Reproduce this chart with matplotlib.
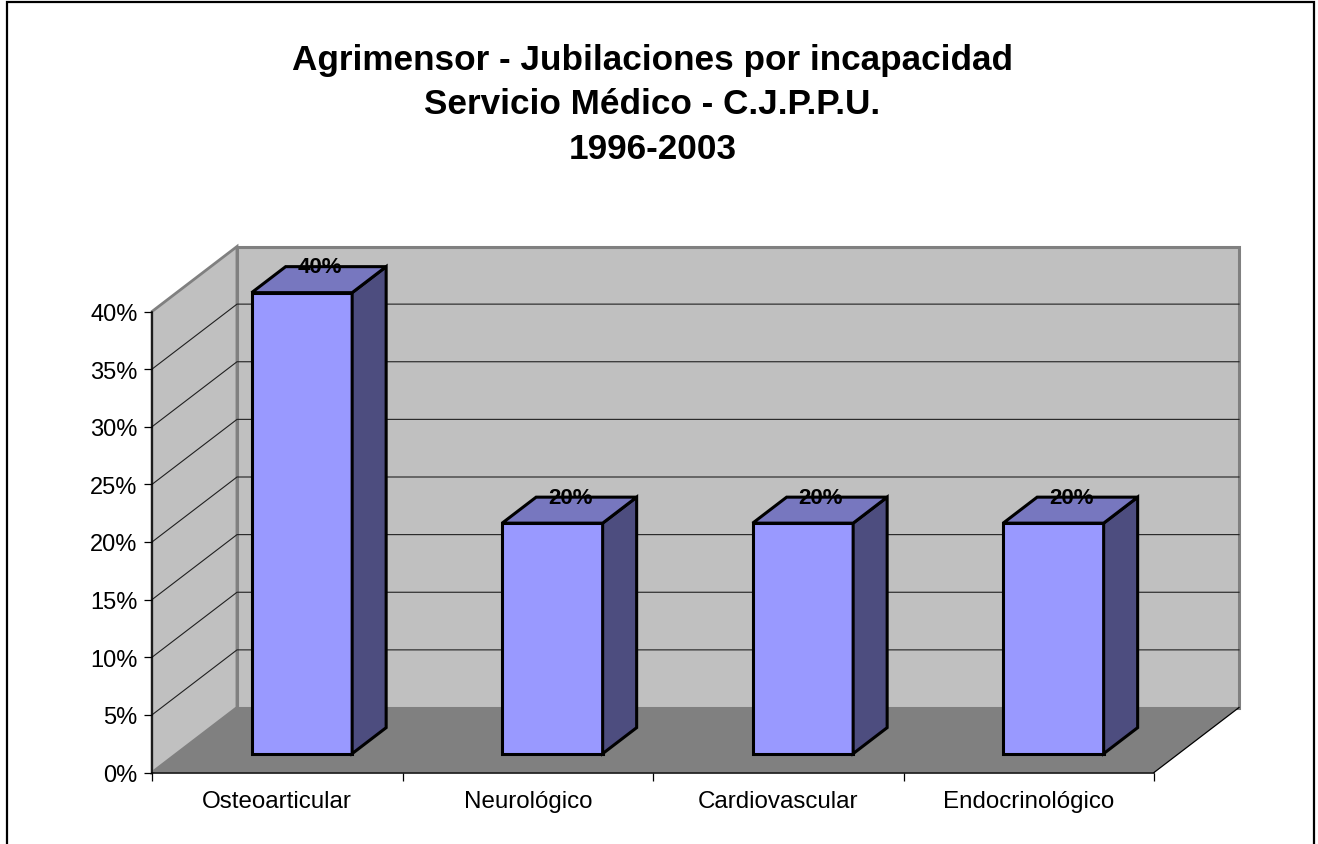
import matplotlib
matplotlib.use("Agg")
import matplotlib.pyplot as plt
from matplotlib.patches import Polygon, Rectangle

plt.rcParams['font.family'] = ['Liberation Sans', 'DejaVu Sans']

categorias = ['Osteoarticular', 'Neurológico', 'Cardiovascular', 'Endocrinológico']
valores = [40, 20, 20, 20]
ticks = [0, 5, 10, 15, 20, 25, 30, 35, 40]
titulo = 'Agrimensor - Jubilaciones por incapacidad\nServicio Médico - C.J.P.P.U.\n1996-2003'

W, H = 1318, 845
fig = plt.figure(figsize=(W / 100, H / 100), dpi=100)
fig.patch.set_facecolor('white')

# frame around the chart, the bottom edge falls outside the picture
fig.add_artist(Rectangle((6.5 / W, -10 / H), (1313.5 - 6.5) / W, (H + 10 - 2.5) / H, fill=False,
                         edgecolor='black', linewidth=1.6, transform=fig.transFigure))

# axes sits on the front plane of the 3d box
left, right, bottom, top = 152, 1154, 773.5, 312.5
ax = fig.add_axes([left / W, 1 - bottom / H, (right - left) / W, (bottom - top) / H])
ax.set_xlim(0, len(categorias))
ax.set_ylim(0, 40)
ax.patch.set_visible(False)
for s in ax.spines.values():
    s.set_visible(False)

# depth of the box, in data units
dx = 85 / ((right - left) / len(categorias))
dy = 65 / ((bottom - top) / 40)
n = len(categorias)


def poly(pts, **kw):
    kw.setdefault('clip_on', False)
    ax.add_patch(Polygon(pts, closed=True, **kw))


wall = '#c0c0c0'
edge = '#808080'
poly([(0, 0), (dx, dy), (dx, 40 + dy), (0, 40)], facecolor=wall, edgecolor=edge, linewidth=2, joinstyle='miter', zorder=1)
poly([(dx, dy), (n + dx, dy), (n + dx, 40 + dy), (dx, 40 + dy)], facecolor=wall, edgecolor=edge, linewidth=2.2, joinstyle='miter', zorder=1)
poly([(0, 0), (n, 0), (n + dx, dy), (dx, dy)], facecolor='#808080', edgecolor='none', zorder=2)

# gridlines on both walls
for t in ticks[1:-1]:
    ax.plot([0, dx, n + dx], [t, t + dy, t + dy], color='#202020', lw=0.8, clip_on=False, zorder=2)
ax.plot([n, n + dx], [0, dy], color='black', lw=0.9, clip_on=False, zorder=3)
ax.plot([0, n], [0, 0], color='black', lw=1.1, clip_on=False, zorder=3)
ax.plot([0, 0], [0, 40], color='black', lw=1.1, clip_on=False, zorder=3)

# bars sit partway into the box
prof1, prof2 = 0.29, 0.69
ancho = 100.5 / ((right - left) / n)
for i, v in enumerate(valores):
    x0 = i + 0.5 - ancho / 2 + prof1 * dx
    x1 = x0 + ancho
    y0 = prof1 * dy
    y1 = v + y0
    ddx = (prof2 - prof1) * dx
    ddy = (prof2 - prof1) * dy
    estilo = dict(edgecolor='black', linewidth=2.2, joinstyle='miter', zorder=4)
    ax.bar(x0, v, width=ancho, bottom=y0, align='edge', color='#9999ff', clip_on=False, **estilo)
    poly([(x1, y0), (x1 + ddx, y0 + ddy), (x1 + ddx, y1 + ddy), (x1, y1)], facecolor='#4d4d7f', **estilo)
    poly([(x0, y1), (x1, y1), (x1 + ddx, y1 + ddy), (x0 + ddx, y1 + ddy)], facecolor='#7777bf', **estilo)
    ax.annotate(f'{v}%', xy=(i + 0.5 + prof1 * dx + 0.072, y1 + ddy), ha='center', va='center',
                fontsize=16, fontweight='bold', color='black', zorder=5, annotation_clip=False)

ax.set_yticks(ticks)
ax.set_yticklabels([f'{t}%' for t in ticks], fontsize=17)
ax.set_xticks(range(n + 1))
ax.set_xticklabels([''] * (n + 1))
ax.tick_params(axis='both', length=5.8, width=0.9, color='black', pad=4.5)
for i, c in enumerate(categorias):
    ax.annotate(c, xy=(i + 0.5, 0), xytext=(0, -20.5), textcoords='offset points', ha='center', va='center',
                fontsize=17.4, annotation_clip=False)

fig.text(652.5 / W, 1 - 105 / H, titulo, ha='center', va='center', fontsize=25.3, fontweight='bold', linespacing=1.46)

fig.savefig('out.png', dpi=100)
